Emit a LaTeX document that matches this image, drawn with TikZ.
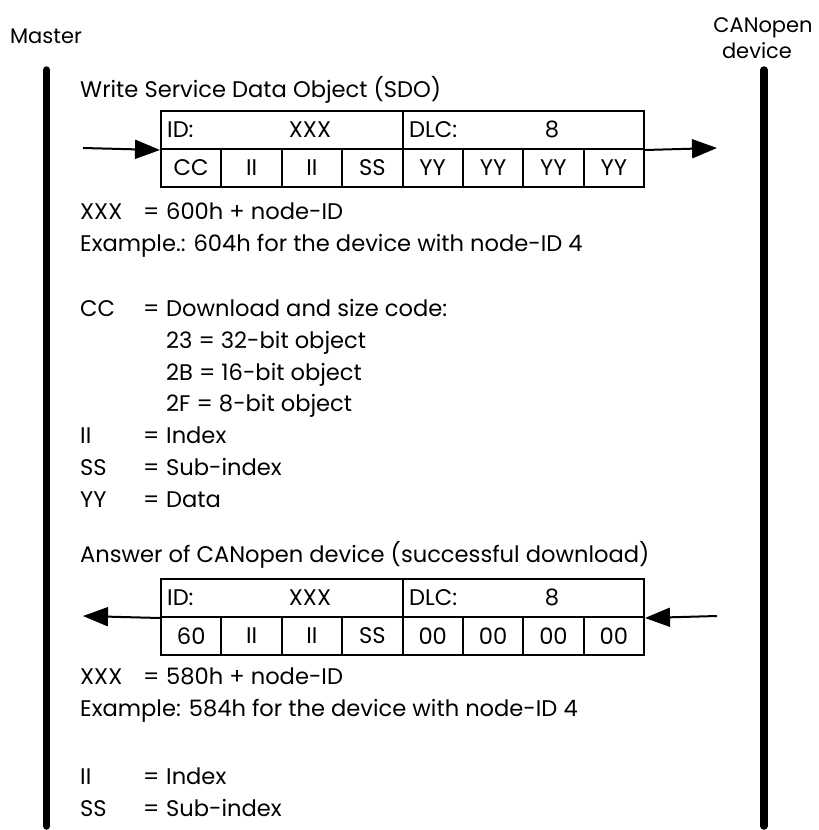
\documentclass[tikz,border=0pt]{standalone}
\usepackage{fontspec}
\setmainfont{Poppins}
\usetikzlibrary{arrows.meta}

\newcommand\kv[2]{\makebox[63pt][l]{#1}\makebox[23pt][l]{=}#2}

\begin{document}
\begin{tikzpicture}[x=1pt,y=-1pt,>={Triangle[length=25pt,width=19pt]},
  txt/.style={anchor=base west,inner sep=0pt,font=\fontsize{22.6}{26}\selectfont},
  ctxt/.style={txt,anchor=base},
  head/.style={txt,anchor=base,font=\fontsize{21}{24}\selectfont},
  cell/.style={draw,line width=2pt,minimum height=38pt,inner sep=0pt,
    anchor=north west,font=\fontsize{22.6}{26}\selectfont},
  bar/.style={line width=7.5pt,line cap=round},
  msg/.style={line width=2pt,->}]
  \useasboundingbox (0,0) rectangle (819,830);

  % the two stations
  \node[head] (master) at (46,43) {Master};
  \node[head] (dev1) at (763,32) {CANopen};
  \node[head] (dev2) at (757,58) {device};
  \coordinate (mtop) at (46.5,70);
  \coordinate (mbot) at (46.5,826);
  \coordinate (dtop) at (764,70);
  \coordinate (dbot) at (764,826);
  \draw[bar] (mtop) -- (mbot);
  \draw[bar] (dtop) -- (dbot);

  % write request
  \node[txt] (wrtitle) at (80,97) {Write Service Data Object (SDO)};
  \node[cell,minimum width=241.5pt] (wrid) at (160,110) {};
  \node[cell,minimum width=241.5pt] (wrdlc) at (401.5,110) {};
  \node[txt] (wridl) at (167,137) {ID:};
  \node[ctxt] (wrxxx) at (310,137) {XXX};
  \node[txt] (wrdlcl) at (409,137) {DLC:};
  \node[ctxt] (wrlen) at (552,137) {8};
  \foreach \lab [count=\i from 0] in {CC,II,II,SS,YY,YY,YY,YY}
    \node[cell,minimum width=60.375pt] (wr\i) at (160+60.375*\i,148) {\lab};
  \coordinate (wrfrom) at (83,148);
  \coordinate (wrto) at (717,148);
  \draw[msg] (wrfrom) -- (wrid.south west);
  \draw[msg] (wrdlc.south east) -- (wrto);

  \node[txt] (xxxa) at (80,219) {\kv{XXX}{600h + node-ID}};
  \node[txt] (exa) at (80,251) {Example.: 604h for the device with node-ID 4};
  \node[txt] (cca) at (80,316) {\kv{CC}{Download and size code:}};
  \node[txt] (c23) at (166,348) {23 = 32-bit object};
  \node[txt] (c2b) at (166,380) {2B = 16-bit object};
  \node[txt] (c2f) at (166,411) {2F = 8-bit object};
  \node[txt] (iia) at (80,443) {\kv{II}{Index}};
  \node[txt] (ssa) at (80,475) {\kv{SS}{Sub-index}};
  \node[txt] (yya) at (80,507) {\kv{YY}{Data}};

  % answer of the device
  \node[txt] (antitle) at (80,562) {Answer of CANopen device (successful download)};
  \node[cell,minimum width=241.5pt] (anid) at (160,578) {};
  \node[cell,minimum width=241.5pt] (andlc) at (401.5,578) {};
  \node[txt] (anidl) at (167,605) {ID:};
  \node[ctxt] (anxxx) at (310,605) {XXX};
  \node[txt] (andlcl) at (409,605) {DLC:};
  \node[ctxt] (anlen) at (552,605) {8};
  \foreach \lab [count=\i from 0] in {60,II,II,SS,00,00,00,00}
    \node[cell,minimum width=60.375pt] (an\i) at (160+60.375*\i,616) {\lab};
  \coordinate (anfrom) at (717,616);
  \coordinate (anto) at (83,616);
  \draw[msg] (anid.south west) -- (anto);
  \draw[msg] (anfrom) -- (andlc.south east);

  \node[txt] (xxxb) at (80,684) {\kv{XXX}{580h + node-ID}};
  \node[txt] (exb) at (80,716) {Example: 584h for the device with node-ID 4};
  \node[txt] (iib) at (80,784) {\kv{II}{Index}};
  \node[txt] (ssb) at (80,816) {\kv{SS}{Sub-index}};
\end{tikzpicture}
\end{document}
